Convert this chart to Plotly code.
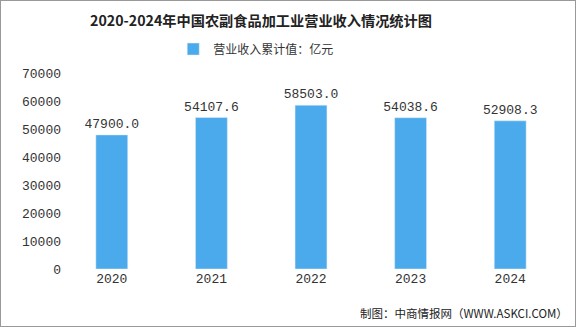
import plotly.graph_objects as go

years = ["2020", "2021", "2022", "2023", "2024"]
revenue = [47900.0, 54107.6, 58503.0, 54038.6, 52908.3]
labels = ["47900.0", "54107.6", "58503.0", "54038.6", "52908.3"]
tick_vals = [0, 10000, 20000, 30000, 40000, 50000, 60000, 70000]
tick_text = ["0", "10000", "20000", "30000", "40000", "50000", "60000", "70000"]

num_font = "Liberation Mono, Noto Sans CJK SC"
cjk = "Noto Sans CJK SC"

fig = go.Figure()
fig.add_trace(go.Bar(
    x=years, y=revenue, name="营业收入累计值：亿元",
    marker=dict(color="#4AAAEC"),
    text=labels, textposition="outside", textangle=0, constraintext="none",
    textfont=dict(family=num_font, size=13, color="#333333"),
    cliponaxis=False,
))

fig.update_layout(
    width=576, height=327,
    margin=dict(l=62, r=16, t=73, b=58, autoexpand=False),
    paper_bgcolor="white", plot_bgcolor="white",
    bargap=0.68,
    title=dict(text="<b>2020-2024年中国农副食品加工业营业收入情况统计图</b>",
               x=261/576, xanchor="center", y=0.935, yanchor="middle",
               font=dict(family=cjk, size=14.2, color="#222222")),
    showlegend=True,
    legend=dict(orientation="h", x=0.39, xanchor="center", y=0.85, yref="container",
                yanchor="middle", font=dict(family=cjk, size=12, color="#333333"),
                itemwidth=30),
    xaxis=dict(showgrid=False, showline=False, ticks="",
               tickfont=dict(family=num_font, size=13, color="#333333")),
    yaxis=dict(range=[0, 70000], tickvals=tick_vals, ticktext=tick_text, showgrid=False,
               showline=False, zeroline=False, ticks="",
               tickfont=dict(family=num_font, size=13, color="#333333")),
)

fig.add_shape(type="rect", xref="paper", yref="paper",
              x0=-62/498, x1=1+16/498, y0=-58/196, y1=1+73/196,
              line=dict(color="#999999", width=2))

fig.add_annotation(text="制图：中商情报网（WWW.ASKCI.COM）", xref="paper", yref="paper",
                   x=1.02, xanchor="right", y=-0.225, yanchor="middle",
                   showarrow=False, font=dict(family=cjk, size=11.5, color="#222222"))

fig.write_html("out.html")
